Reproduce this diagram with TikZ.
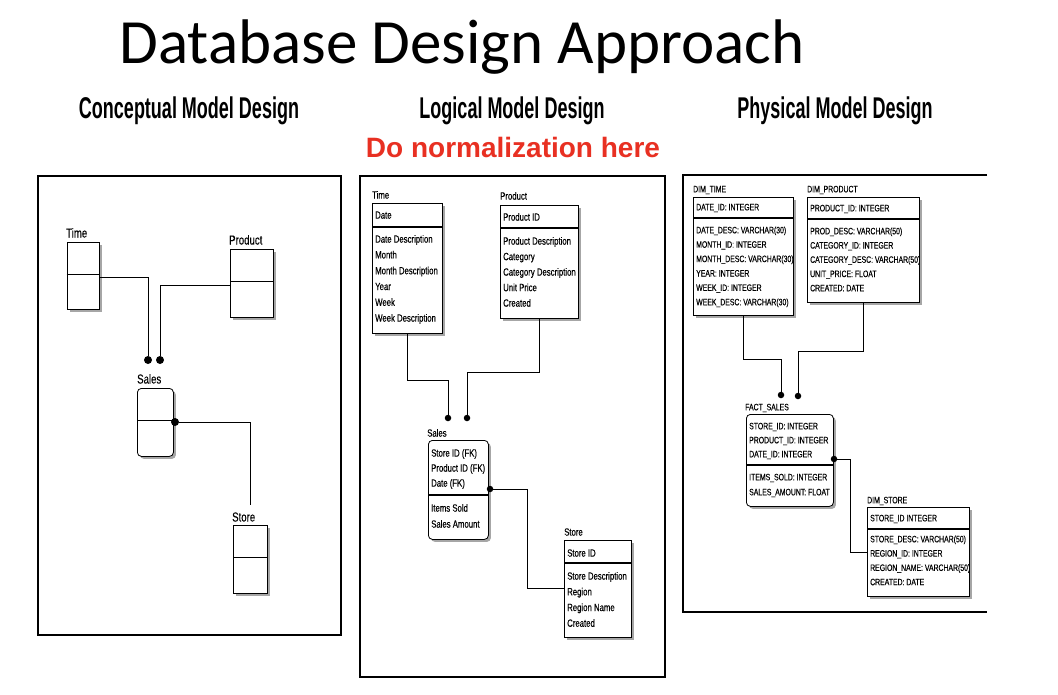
\documentclass[tikz,border=0pt]{standalone}
\usepackage{fontspec}
\setmainfont{Liberation Sans}
\usetikzlibrary{shadows}
\newfontfamily\titlefont{Carlito}
\newfontfamily\headfont[FakeStretch=0.6]{Liberation Sans}
\newfontfamily\boxfont[FakeStretch=0.74,FakeBold=0.3]{Liberation Sans}
\newfontfamily\redfont{Liberation Sans}
\definecolor{normred}{RGB}{232,48,34}
\begin{document}
\begin{tikzpicture}[x=1pt,y=-1pt,
  ent/.style={draw=black, line width=0.8pt, fill=white, inner sep=0pt, anchor=north west,
    drop shadow={shadow xshift=2.5pt, shadow yshift=-2.5pt, fill=gray!70, opacity=1}},
  rent/.style={ent, rounded corners=4pt},
  panelbox/.style={draw=black, line width=1.6pt, inner sep=0pt, anchor=north west},
  conn/.style={line width=0.9pt},
  divline/.style={line width=1.1pt},
  dot/.style={circle, fill=black, inner sep=0pt, minimum size=6.5pt},
  bigdot/.style={dot, minimum size=8pt},
  lbl1/.style={inner sep=0pt, anchor=west, font=\boxfont\fontsize{13}{13}\selectfont, text height=9pt, text depth=0pt},
  attr/.style={inner sep=0pt, anchor=west, font=\boxfont\fontsize{10.5}{10.5}\selectfont, text height=7.3pt, text depth=0pt},
  attrs/.style={inner sep=0pt, anchor=west, font=\boxfont\fontsize{9.3}{9.3}\selectfont, text height=6.6pt, text depth=0pt},
  heading/.style={inner sep=0pt, anchor=base, font=\headfont\bfseries\fontsize{30}{30}\selectfont},
]
\useasboundingbox (0,0) rectangle (1058,694);

% titles
\node[inner sep=0pt, anchor=base, font=\titlefont\fontsize{63}{63}\selectfont] (title) at (462,63) {Database Design Approach};
\node[heading] (h1) at (189,118) {Conceptual Model Design};
\node[heading] (h2) at (512,118) {Logical Model Design};
\node[heading] (h3) at (835,118) {Physical Model Design};
\node[inner sep=0pt, anchor=base, text=normred, font=\redfont\bfseries\fontsize{28}{28}\selectfont] (norm) at (513,157) {Do normalization here};

% panels
\node[panelbox, minimum width=303pt, minimum height=459pt] (p1) at (37,175) {};
\node[panelbox, minimum width=305pt, minimum height=501pt] (p2) at (359,175) {};
\draw[line width=1.6pt] (987,175) -- (683,175) -- (683,612) -- (987,612);

% ---------- Conceptual ----------
\node[ent, minimum width=32.6pt, minimum height=67pt] (ctime) at (66.7,242) {};
\draw[conn] ([yshift=-32pt]ctime.north west) -- ([yshift=-32pt]ctime.north east);
\node[ent, minimum width=43pt, minimum height=68pt] (cprod) at (230,249) {};
\draw[conn] ([yshift=-32pt]cprod.north west) -- ([yshift=-32pt]cprod.north east);
\node[rent, minimum width=36pt, minimum height=68pt] (csales) at (137,388) {};
\draw[conn] ([yshift=-32pt]csales.north west) -- ([yshift=-32pt]csales.north east);
\node[ent, minimum width=34pt, minimum height=68pt] (cstore) at (233,525) {};
\draw[conn] ([yshift=-32pt]cstore.north west) -- ([yshift=-32pt]cstore.north east);

\node[lbl1] (ctimel) at (66,233) {Time};
\node[lbl1] (cprodl) at (229,240) {Product};
\node[lbl1] (csalesl) at (137,379) {Sales};
\node[lbl1] (cstorel) at (232,517) {Store};

\node[bigdot] (cdot1) at (148,360) {};
\node[bigdot] (cdot2) at (160,360) {};
\node[bigdot] (cdot3) at (175,422) {};
\coordinate (cend) at (250,505);
\draw[conn] ([yshift=-35pt]ctime.north east) -| (cdot1);
\draw[conn] ([yshift=-36pt]cprod.north west) -| (cdot2);
\draw[conn] (cdot3) -| (cend);

% ---------- Logical ----------
\node[ent, minimum width=70pt, minimum height=130pt] (ltime) at (372,203) {};
\draw[divline] ([yshift=-24pt]ltime.north west) -- ([yshift=-24pt]ltime.north east);
\node[attr] (ltimel) at (372,195) {Time};
\node[attr] (ltimeh) at (375,215) {Date};
\foreach \t [count=\i] in {Date Description, Month, Month Description, Year, Week, Week Description}
  \node[attr] (ltimea\i) at (375,{239+(\i-1)*15.8}) {\t};

\node[ent, minimum width=78pt, minimum height=113pt] (lprod) at (500,205) {};
\draw[divline] ([yshift=-23pt]lprod.north west) -- ([yshift=-23pt]lprod.north east);
\node[attr] (lprodl) at (500,196) {Product};
\node[attr] (lprodh) at (503,217) {Product ID};
\foreach \t [count=\i] in {Product Description, Category, Category Description, Unit Price, Created}
  \node[attr] (lproda\i) at (503,{241+(\i-1)*15.5}) {\t};

\node[rent, minimum width=60pt, minimum height=99pt] (lsales) at (428,440) {};
\draw[divline] ([yshift=-55pt]lsales.north west) -- ([yshift=-55pt]lsales.north east);
\node[attr] (lsalesl) at (427,433) {Sales};
\foreach \t [count=\i] in {Store ID (FK), Product ID (FK), Date (FK)}
  \node[attr] (lsalesa\i) at (431,{453+(\i-1)*15}) {\t};
\foreach \t [count=\i] in {Items Sold, Sales Amount}
  \node[attr] (lsalesb\i) at (431,{508+(\i-1)*16}) {\t};

\node[ent, minimum width=67pt, minimum height=97pt] (lstore) at (564,540) {};
\draw[divline] ([yshift=-23pt]lstore.north west) -- ([yshift=-23pt]lstore.north east);
\node[attr] (lstorel) at (564,532) {Store};
\node[attr] (lstoreh) at (567,553) {Store ID};
\foreach \t [count=\i] in {Store Description, Region, Region Name, Created}
  \node[attr] (lstorea\i) at (567,{576+(\i-1)*15.7}) {\t};

\node[dot] (ldot1) at (448,418) {};
\node[dot] (ldot2) at (467,418) {};
\node[dot] (ldot3) at (490,489) {};
\draw[conn] (ltime.south) -- ++(0,47) -| (ldot1);
\draw[conn] (lprod.south) -- ++(0,54) -| (ldot2);
\draw[conn] (ldot3) -- ++(37,0) |- ([yshift=-48pt]lstore.north west);

% ---------- Physical ----------
\node[ent, minimum width=100pt, minimum height=118pt] (ptime) at (693,197) {};
\draw[divline] ([yshift=-21pt]ptime.north west) -- ([yshift=-21pt]ptime.north east);
\node[attrs] (ptimel) at (693,189) {DIM\_TIME};
\node[attrs] (ptimeh) at (696,207) {DATE\_ID: INTEGER};
\foreach \t [count=\i] in {DATE\_DESC: VARCHAR(30), MONTH\_ID: INTEGER, MONTH\_DESC: VARCHAR(30), YEAR: INTEGER, WEEK\_ID: INTEGER, WEEK\_DESC: VARCHAR(30)}
  \node[attrs] (ptimea\i) at (696,{230+(\i-1)*14.4}) {\t};

\node[ent, minimum width=112pt, minimum height=105pt] (pprod) at (807,197) {};
\draw[divline] ([yshift=-22pt]pprod.north west) -- ([yshift=-22pt]pprod.north east);
\node[attrs] (pprodl) at (807,189) {DIM\_PRODUCT};
\node[attrs] (pprodh) at (810,208) {PRODUCT\_ID: INTEGER};
\foreach \t [count=\i] in {PROD\_DESC: VARCHAR(50), CATEGORY\_ID: INTEGER, CATEGORY\_DESC: VARCHAR(50), UNIT\_PRICE: FLOAT, CREATED: DATE}
  \node[attrs] (pproda\i) at (810,{231+(\i-1)*14.25}) {\t};

\node[rent, minimum width=87pt, minimum height=92pt] (psales) at (746,414) {};
\draw[divline] ([yshift=-51pt]psales.north west) -- ([yshift=-51pt]psales.north east);
\node[attrs] (psalesl) at (745,407) {FACT\_SALES};
\foreach \t [count=\i] in {STORE\_ID: INTEGER, PRODUCT\_ID: INTEGER, DATE\_ID: INTEGER}
  \node[attrs] (psalesa\i) at (749,{426+(\i-1)*14}) {\t};
\foreach \t [count=\i] in {ITEMS\_SOLD: INTEGER, SALES\_AMOUNT: FLOAT}
  \node[attrs] (psalesb\i) at (749,{477+(\i-1)*15}) {\t};

\node[ent, minimum width=102pt, minimum height=89pt] (pstore) at (867,507) {};
\draw[divline] ([yshift=-22pt]pstore.north west) -- ([yshift=-22pt]pstore.north east);
\node[attrs] (pstorel) at (867,500) {DIM\_STORE};
\node[attrs] (pstoreh) at (870,518) {STORE\_ID INTEGER};
\foreach \t [count=\i] in {STORE\_DESC: VARCHAR(50), REGION\_ID: INTEGER, REGION\_NAME: VARCHAR(50), CREATED: DATE}
  \node[attrs] (pstorea\i) at (870,{539+(\i-1)*14.3}) {\t};

\node[dot] (pdot1) at (781,395) {};
\node[dot] (pdot2) at (798,396) {};
\node[dot] (pdot3) at (834,459) {};
\draw[conn] (ptime.south) -- ++(0,44) -| (pdot1);
\draw[conn] (pprod.south) -- ++(0,49) -| (pdot2);
\draw[conn] (pdot3) -- ++(16,0) |- ([yshift=-45pt]pstore.north west);
\end{tikzpicture}
\end{document}
